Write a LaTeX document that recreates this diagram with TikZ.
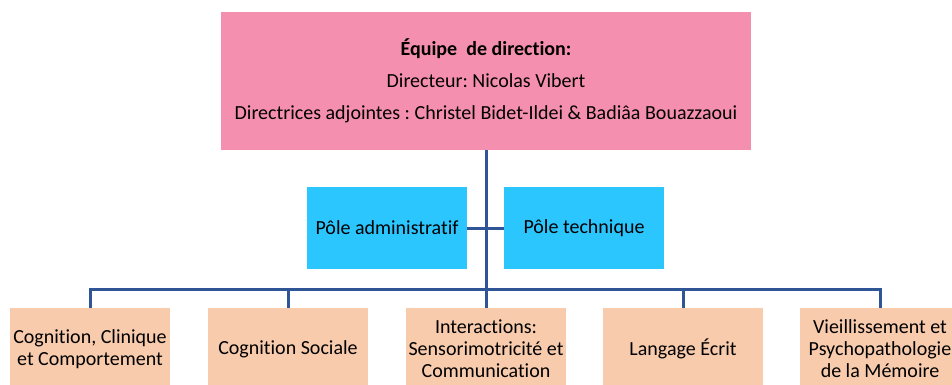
\documentclass[tikz,border=0pt]{standalone}
\usepackage{fontspec}
\setmainfont[Ligatures=NoCommon]{Carlito}
\frenchspacing
\definecolor{dirpink}{RGB}{245,143,176}
\definecolor{poleblue}{RGB}{44,198,255}
\definecolor{teampeach}{RGB}{248,203,173}
\definecolor{linkblue}{RGB}{47,85,151}
\tikzset{
    dirbox/.style={fill=dirpink, minimum width=530pt, minimum height=138pt, align=center, font=\fontsize{20}{32}\selectfont},
    polebox/.style={fill=poleblue, minimum width=160pt, minimum height=82pt, inner sep=0pt, font=\fontsize{20}{22}\selectfont},
    teambox/.style={fill=teampeach, minimum width=160pt, minimum height=82pt, inner sep=0pt, align=center, font=\fontsize{20}{22}\selectfont},
    link/.style={draw=linkblue, line width=3pt}
}
\begin{document}
\begin{tikzpicture}[x=1pt,y=-1pt]
            \useasboundingbox (0,0) rectangle (952,385);
            \node [dirbox] (dir) at (486,81) {\textbf{Équipe\ \ de direction:}\\ Directeur: Nicolas Vibert\\ Directrices adjointes : Christel Bidet-Ildei \& Badiâa Bouazzaoui};
            \node [polebox] (adm) at (387,228) {Pôle administratif};
            \node [polebox] (tech) at (584,228) {Pôle technique};
            \node [teambox] (t1) at (90,349) {Cognition, Clinique\\et Comportement};
            \node [teambox] (t2) at (288,349) {Cognition Sociale};
            \node [teambox] (t3) at (486,349) {Interactions:\\Sensorimotricité et\\Communication};
            \node [teambox] (t4) at (683,349) {Langage Écrit};
            \node [teambox] (t5) at (880,349) {Vieillissement et\\Psychopathologie\\de la Mémoire};
            \coordinate (bus) at (486,289);
            \draw [link] (dir.south) -- (bus);
            \draw [link] (adm.east) -- (tech.west);
            \draw [link] (t1.north) |- (bus) -| (t5.north);
            \draw [link] (t2.north) -- (t2.north |- bus);
            \draw [link] (t3.north) -- (bus);
            \draw [link] (t4.north) -- (t4.north |- bus);
        \end{tikzpicture}
\end{document}
